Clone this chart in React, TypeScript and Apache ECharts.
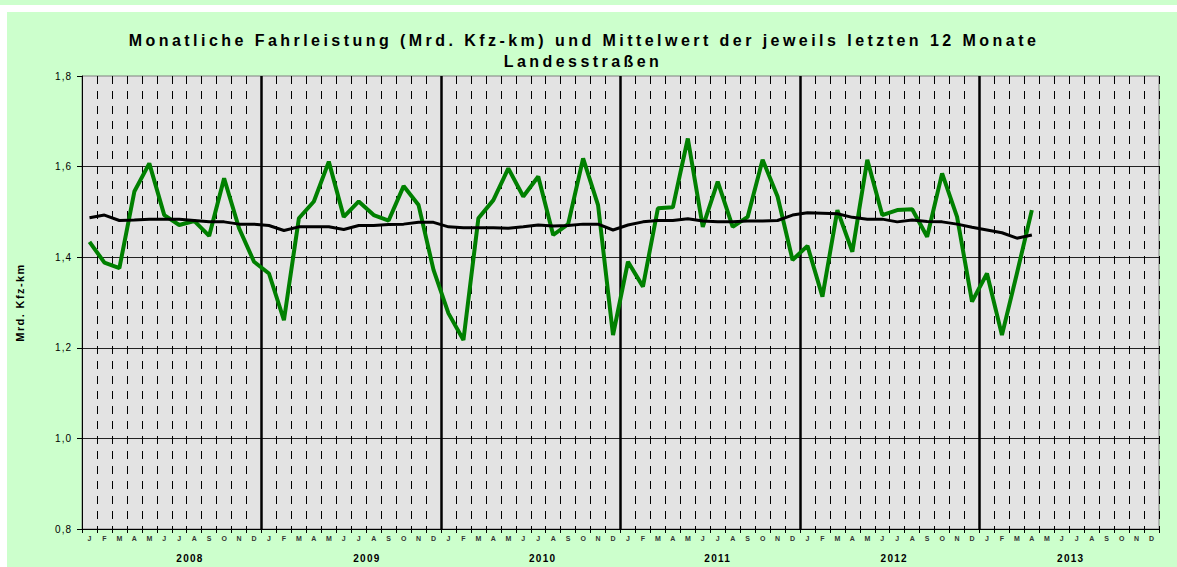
import React, { useEffect, useRef } from "react";
import * as echarts from "echarts";

const TITLE_1 = "Monatliche Fahrleistung (Mrd. Kfz-km) und Mittelwert der jeweils letzten 12 Monate";
const TITLE_2 = "Landesstraßen";
const Y_NAME = "Mrd. Kfz-km";

const years = ["2008", "2009", "2010", "2011", "2012", "2013"];
const monthLetters = ["J", "F", "M", "A", "M", "J", "J", "A", "S", "O", "N", "D"];

// Monthly mileage (Mrd. Kfz-km), Jan 2008 .. Apr 2013
const monthly = [
  1.434, 1.388, 1.376, 1.545, 1.607, 1.493, 1.471, 1.48, 1.447, 1.574, 1.464, 1.39,
  1.364, 1.261, 1.486, 1.523, 1.611, 1.489, 1.523, 1.493, 1.481, 1.557, 1.515, 1.372,
  1.276, 1.217, 1.486, 1.526, 1.596, 1.534, 1.578, 1.449, 1.473, 1.618, 1.515, 1.228,
  1.39, 1.335, 1.508, 1.51, 1.662, 1.467, 1.567, 1.467, 1.489, 1.615, 1.534, 1.394,
  1.425, 1.313, 1.504, 1.412, 1.615, 1.493, 1.504, 1.506, 1.445, 1.585, 1.489, 1.302,
  1.364, 1.228, 1.364, 1.504,
];

// Mean of the last 12 months
const mean12 = [
  1.487, 1.493, 1.481, 1.482, 1.484, 1.484, 1.484, 1.481, 1.478, 1.478, 1.473, 1.473,
  1.47, 1.459, 1.467, 1.467, 1.467, 1.461, 1.47, 1.47, 1.472, 1.473, 1.477, 1.477,
  1.467, 1.465, 1.465, 1.465, 1.464, 1.467, 1.471, 1.469, 1.47, 1.473, 1.473, 1.46,
  1.471, 1.478, 1.481, 1.481, 1.485, 1.48, 1.478, 1.478, 1.48, 1.48, 1.481, 1.493,
  1.498, 1.497, 1.496, 1.488, 1.484, 1.484, 1.478, 1.482, 1.479, 1.478, 1.473, 1.466,
  1.46, 1.454, 1.442, 1.449,
];

// Year label anchor positions (in month units along the axis)
const yearLabelPos = [7.22, 19.05, 30.8, 42.5, 54.3, 66.1];

const categories: string[] = [];
years.forEach((y) => monthLetters.forEach((m, i) => categories.push(`${y}-${i}-${m}`)));

const FONT = "'Liberation Sans', Arial, sans-serif";

function applySpacing(dom: HTMLElement) {
  dom.querySelectorAll("text").forEach((t) => {
    const s = (t.textContent || "").trim();
    let ls = "";
    if (s === TITLE_1 || s === TITLE_2) ls = "3.45px";
    else if (/^\d{4}$/.test(s)) ls = "1.3px";
    else if (/^\d,\d$/.test(s)) ls = "1px";
    else if (s === Y_NAME) ls = "1.4px";
    if (ls) (t as SVGTextElement).style.letterSpacing = ls;
  });
}

export default function App() {
  const ref = useRef<HTMLDivElement>(null);

  useEffect(() => {
    document.body.style.margin = "0";
    if (!ref.current) return;
    const chart = echarts.init(ref.current, undefined, { renderer: "svg" });
    const option: any = {
      animation: false,
      backgroundColor: "transparent",
      graphic: [
        {
          type: "text",
          x: 584,
          y: 40,
          style: {
            text: TITLE_1,
            fontFamily: FONT,
            fontSize: 16,
            fontWeight: "bold",
            fill: "#000",
            textAlign: "center",
            textVerticalAlign: "middle",
          },
        },
        {
          type: "text",
          x: 583,
          y: 61,
          style: {
            text: TITLE_2,
            fontFamily: FONT,
            fontSize: 16,
            fontWeight: "bold",
            fill: "#000",
            textAlign: "center",
            textVerticalAlign: "middle",
          },
        },
      ],
      grid: {
        left: 82,
        right: 18,
        top: 76,
        bottom: 38,
        show: true,
        backgroundColor: "#E3E3E3",
        borderColor: "#808080",
        borderWidth: 1,
      },
      xAxis: [
        {
          type: "category",
          data: categories,
          boundaryGap: true,
          axisLine: { show: true, lineStyle: { color: "#000", width: 1 } },
          axisTick: { show: true, interval: 0, length: 4, lineStyle: { color: "#000" } },
          axisLabel: {
            interval: 0,
            margin: 6,
            fontSize: 7,
            fontWeight: "bold",
            fontFamily: FONT,
            color: "#333",
            formatter: (v: string) => v.split("-")[2],
          },
          splitLine: {
            show: true,
            interval: 0,
            lineStyle: { color: "#000", width: 1, type: [8, 7] },
          },
        },
        {
          type: "value",
          min: 0,
          max: 72,
          interval: 12,
          position: "bottom",
          axisLine: { show: false },
          axisTick: { show: false },
          axisLabel: { show: false },
          splitLine: {
            show: true,
            showMinLine: false,
            showMaxLine: false,
            lineStyle: { color: "#000", width: 2.5 },
          },
        },
        {
          type: "value",
          min: 0,
          max: 72,
          position: "bottom",
          axisLine: { show: false },
          axisTick: { show: false },
          splitLine: { show: false },
          axisLabel: {
            show: true,
            customValues: yearLabelPos,
            margin: 24,
            fontSize: 10,
            fontWeight: "bold",
            fontFamily: FONT,
            color: "#000",
            formatter: (v: number) => years[Math.floor(v / 12)],
          },
        },
      ],
      yAxis: {
        type: "value",
        min: 0.8,
        max: 1.8,
        interval: 0.2,
        name: Y_NAME,
        nameLocation: "middle",
        nameGap: 57,
        nameTextStyle: { fontFamily: FONT, fontSize: 11, fontWeight: "bold", color: "#000" },
        axisLine: { show: true, lineStyle: { color: "#000", width: 1 } },
        axisTick: { show: true, length: 5, lineStyle: { color: "#000" } },
        axisLabel: {
          margin: 10,
          fontSize: 10,
          fontFamily: FONT,
          color: "#000",
          formatter: (v: number) => v.toFixed(1).replace(".", ","),
        },
        splitLine: {
          show: true,
          showMinLine: false,
          showMaxLine: false,
          lineStyle: { color: "#222", width: 1 },
        },
      },
      series: [
        {
          name: "Monatliche Fahrleistung",
          type: "line",
          xAxisIndex: 0,
          data: monthly,
          symbol: "none",
          lineStyle: { color: "#008000", width: 4 },
          z: 3,
        },
        {
          name: "Mittelwert 12 Monate",
          type: "line",
          xAxisIndex: 0,
          data: mean12,
          symbol: "none",
          lineStyle: { color: "#000", width: 3 },
          z: 4,
        },
      ],
    };
    chart.setOption(option);
    const dom = ref.current;
    applySpacing(dom);
    chart.on("finished", () => applySpacing(dom));
    return () => {
      chart.dispose();
    };
  }, []);

  return (
    <div style={{ position: "relative", width: 1177, height: 567, background: "#fff", overflow: "hidden" }}>
      <div style={{ position: "absolute", left: 0, top: 0, width: 1177, height: 5, background: "#CCFFCC" }} />
      <div style={{ position: "absolute", left: 7, top: 12, width: 1170, height: 555, background: "#CCFFCC" }} />
      <div ref={ref} style={{ position: "absolute", left: 0, top: 0, width: 1177, height: 567 }} />
    </div>
  );
}
